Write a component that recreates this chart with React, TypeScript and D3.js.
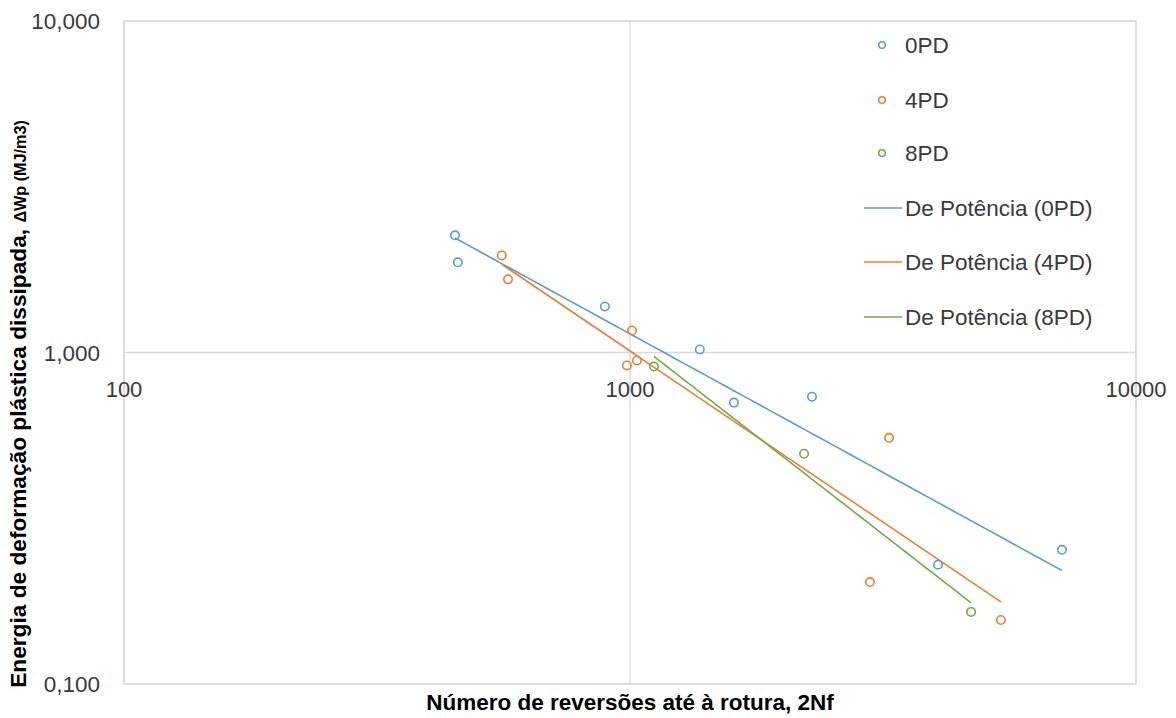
import React from "react";
import * as d3 from "d3";

// ---- Data ----
const series0PD_x = [451, 457, 892, 1374, 1605, 2289, 4062, 7141];
const series0PD_y = [2.257, 1.871, 1.377, 1.021, 0.706, 0.736, 0.229, 0.254];
const series4PD_x = [558, 574, 1009, 986, 1032, 3251, 2980, 5408];
const series4PD_y = [1.963, 1.662, 1.165, 0.914, 0.946, 0.553, 0.203, 0.156];
const series8PD_x = [1115, 2208, 4721];
const series8PD_y = [0.907, 0.495, 0.165];

const seriesNames = ["0PD", "4PD", "8PD"];
const trendNames = ["De Potência (0PD)", "De Potência (4PD)", "De Potência (8PD)"];
const colors = ["#5B9BD5", "#ED7D31", "#70AD47"];

const xTicks = [100, 1000, 10000];
const yTicks = [0.1, 1, 10];

const xTitle = "Número de reversões até à rotura, 2Nf";
const yTitleMain = "Energia de deformação plástica dissipada, ";
const yTitleSub = "ΔWp (MJ/m3)";

const W = 1176;
const H = 718;
const plot = { left: 124, right: 1136, top: 21, bottom: 684 };
const FONT = "'Liberation Sans', Arial, sans-serif";

const ptLocale = d3.formatLocale({ decimal: ",", thousands: ".", grouping: [3], currency: ["", ""] });
const yFmt = ptLocale.format(".3f");

function powerFit(xs: number[], ys: number[]) {
  const lx = xs.map(Math.log10);
  const ly = ys.map(Math.log10);
  const mx = d3.mean(lx) as number;
  const my = d3.mean(ly) as number;
  let sxy = 0, sxx = 0;
  for (let i = 0; i < lx.length; i++) {
    sxy += (lx[i] - mx) * (ly[i] - my);
    sxx += (lx[i] - mx) * (lx[i] - mx);
  }
  const b = sxy / sxx;
  const a = my - b * mx;
  return (x: number) => Math.pow(10, a + b * Math.log10(x));
}

export default function App() {
  const x = d3.scaleLog().domain([100, 10000]).range([plot.left, plot.right]);
  const y = d3.scaleLog().domain([0.1, 10]).range([plot.bottom, plot.top]);

  const data = [
    { xs: series0PD_x, ys: series0PD_y },
    { xs: series4PD_x, ys: series4PD_y },
    { xs: series8PD_x, ys: series8PD_y },
  ];

  const trends = data.map((s) => {
    const f = powerFit(s.xs, s.ys);
    const [x0, x1] = d3.extent(s.xs) as [number, number];
    const pts = d3.range(0, 51).map((i) => {
      const xv = Math.pow(10, Math.log10(x0) + (i / 50) * (Math.log10(x1) - Math.log10(x0)));
      return [xv, f(xv)] as [number, number];
    });
    return d3.line<[number, number]>().x((d) => x(d[0])).y((d) => y(d[1]))(pts) as string;
  });

  const grid = "#d9d9d9";
  const textColor = "#3a3a3a";
  const legendX = 882;
  const legendYs = [45, 100, 153, 208, 262, 317];

  return (
    <svg width={W} height={H} style={{ position: "absolute", left: 0, top: 0, background: "#fff" }} fontFamily={FONT}>
      <rect x={0} y={0} width={W} height={H} fill="#fff" />
      {/* plot border */}
      <rect x={plot.left} y={plot.top} width={plot.right - plot.left} height={plot.bottom - plot.top} fill="none" stroke={grid} strokeWidth={1.3} />
      {/* gridlines */}
      {xTicks.map((t) => (
        <line key={"gx" + t} x1={x(t)} x2={x(t)} y1={plot.top} y2={plot.bottom} stroke={grid} strokeWidth={1.3} />
      ))}
      {yTicks.map((t) => (
        <line key={"gy" + t} x1={plot.left} x2={plot.right} y1={y(t)} y2={y(t)} stroke={grid} strokeWidth={1.3} />
      ))}
      {/* y tick labels */}
      {yTicks.map((t) => (
        <text key={"ty" + t} x={100} y={y(t) + 8} textAnchor="end" fontSize={22.5} fill={textColor}>
          {yFmt(t)}
        </text>
      ))}
      {/* x tick labels (axis crosses at 1) */}
      {xTicks.map((t) => (
        <text key={"tx" + t} x={x(t)} y={y(1) + 44} textAnchor="middle" fontSize={22} fill={textColor}>
          {String(t)}
        </text>
      ))}
      {/* trendlines */}
      {trends.map((d, i) => (
        <path key={"tr" + i} d={d} fill="none" stroke={colors[i]} strokeWidth={1.6} />
      ))}
      {/* points */}
      {data.map((s, si) =>
        s.xs.map((xv, i) => (
          <circle key={`p${si}-${i}`} cx={x(xv)} cy={y(s.ys[i])} r={4.2} fill="none" stroke={colors[si]} strokeWidth={1.6} />
        ))
      )}
      {/* legend */}
      {seriesNames.map((n, i) => (
        <g key={"lg" + n}>
          <circle cx={legendX} cy={legendYs[i]} r={3.3} fill="none" stroke={colors[i]} strokeWidth={1.5} />
          <text x={905} y={legendYs[i] + 7.5} fontSize={22.5} fill={textColor}>{n}</text>
        </g>
      ))}
      {trendNames.map((n, i) => (
        <g key={"lt" + n}>
          <line x1={864} x2={902} y1={legendYs[i + 3]} y2={legendYs[i + 3]} stroke={colors[i]} strokeWidth={1.6} />
          <text x={905} y={legendYs[i + 3] + 7.5} fontSize={22.5} fill={textColor}>{n}</text>
        </g>
      ))}
      {/* axis titles */}
      <text x={630} y={710} textAnchor="middle" fontSize={22.5} fontWeight="bold" fill="#000">{xTitle}</text>
      <text transform={`translate(26, 404) rotate(-90)`} textAnchor="middle" fontWeight="bold" fill="#000">
        <tspan fontSize={22.7}>{yTitleMain}</tspan>
        <tspan fontSize={16.2}>{yTitleSub}</tspan>
      </text>
    </svg>
  );
}
